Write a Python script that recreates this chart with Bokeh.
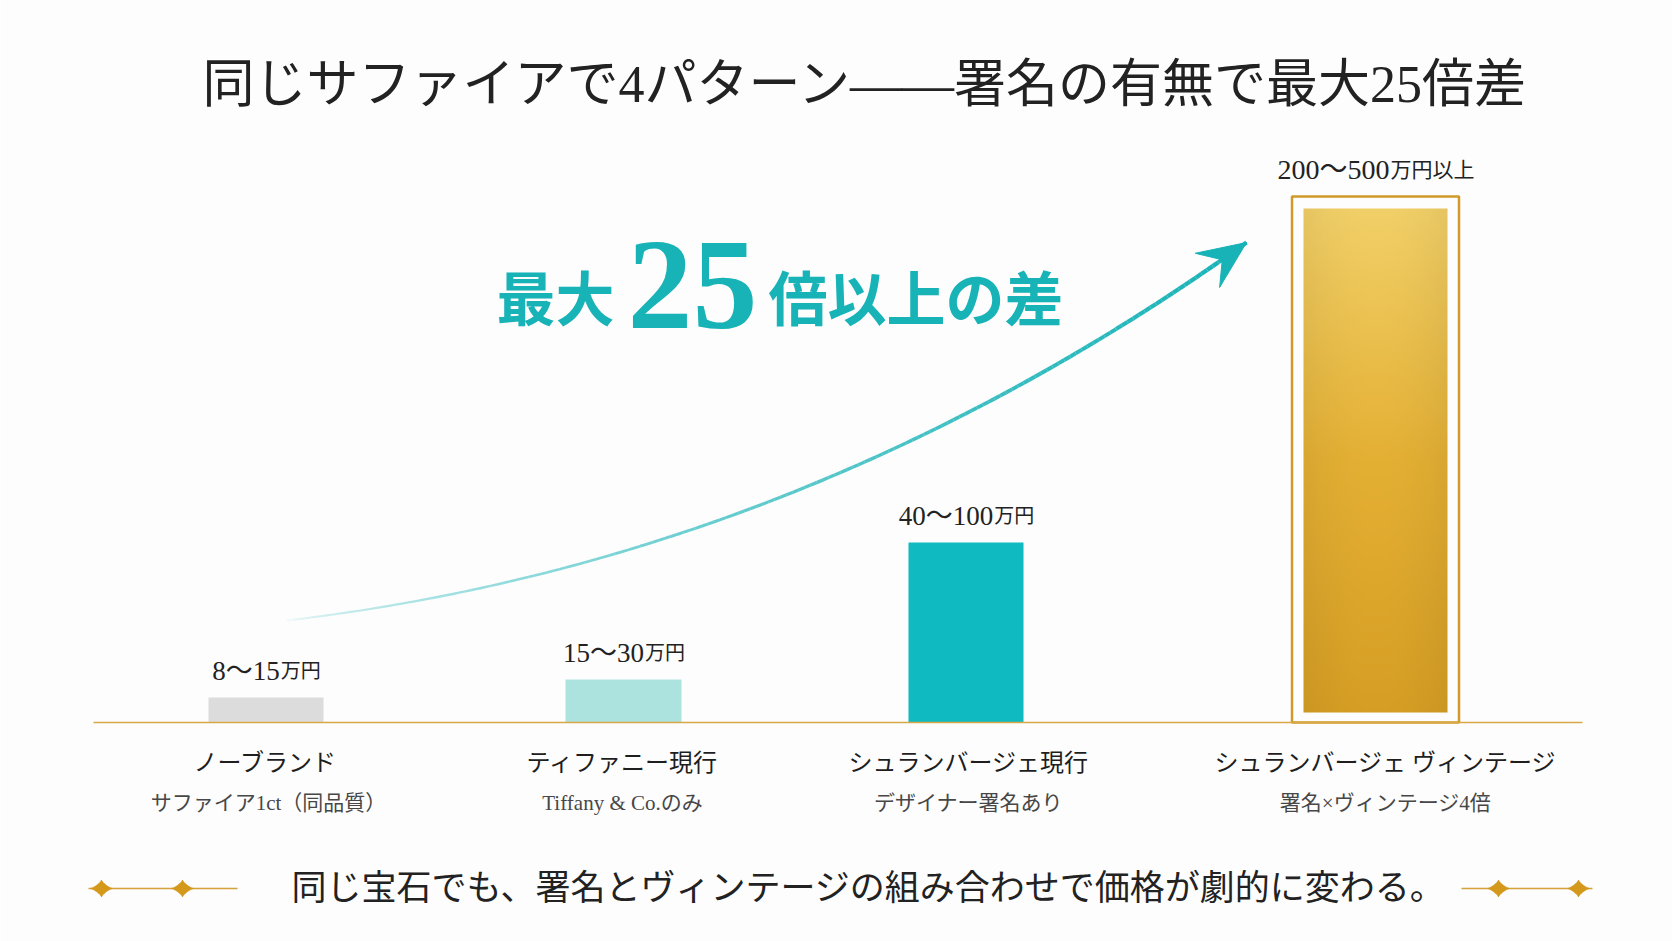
import numpy as np
from bokeh.plotting import figure
from bokeh.models import Range1d
from bokeh.core.properties import value
from bokeh.embed import file_html
from bokeh.resources import INLINE

# ---------------- data ----------------
title_text = "同じサファイアで4パターン——署名の有無で最大25倍差"
headline_pre = "最大"
headline_num = "25"
headline_post = "倍以上の差"
caption_text = "同じ宝石でも、署名とヴィンテージの組み合わせで価格が劇的に変わる。"

categories = ["ノーブランド", "ティファニー現行", "シュランバージェ現行", "シュランバージェ ヴィンテージ"]
subtitles = ["サファイア1ct（同品質）", "Tiffany & Co.のみ", "デザイナー署名あり", "署名×ヴィンテージ4倍"]
price_ranges = ["8〜15", "15〜30", "40〜100", "200〜500"]
price_units = ["万円", "万円", "万円", "万円以上"]
bar_heights = [25, 43, 180, 514]          # visual bar heights (relative units)
bar_colors = ["#dcdcdc", "#ade3df", "#10bac1", "#e2b03a"]

# ---------------- layout ----------------
W, H = 1672, 941
BASE = 722                      # baseline pixel row (from top)
def Y(py):
    return BASE - py

bar_x = [265.5, 623, 965.5, 1375]
bar_w = [115, 116, 115, 144]
label_x = [265, 622, 968, 1385]
sub_x = [268, 622, 968, 1385]

SERIF_JP = value("'Liberation Serif', 'Noto Sans CJK JP'")
JP = value("Noto Sans CJK JP")
TEAL = "#17b3b7"

p = figure(width=W, height=H, x_range=Range1d(0, W), y_range=Range1d(BASE - H, BASE),
           output_backend="svg", toolbar_location=None, min_border=0,
           x_axis_location=None, y_axis_location=None)
p.grid.visible = False
p.outline_line_color = None
p.background_fill_color = "#fdfdfd"
p.border_fill_color = "#fdfdfd"

# title
p.text(x=[865], y=[Y(84)], text=[title_text], text_font=SERIF_JP, text_font_size="52px",
       text_color="#222222", text_align="center", text_baseline="middle")

# bars 1-3
p.vbar(x=bar_x[:3], width=bar_w[:3], bottom=0, top=bar_heights[:3],
       fill_color=bar_colors[:3], line_color=None)

# gold bar (gradient) + frame
gx, gw, gh = bar_x[3], bar_w[3], bar_heights[3]
g_bottom = 10
ny, nx = 200, 60
tv = np.linspace(0, 1, ny)[:, None]            # 0 bottom -> 1 top
uh = np.linspace(-1, 1, nx)[None, :]
c_bot = np.array([214, 158, 36.0])
c_mid = np.array([228, 176, 52.0])
c_top = np.array([242, 208, 104.0])
w1 = np.clip(tv * 2, 0, 1)
w2 = np.clip(tv * 2 - 1, 0, 1)
col = (c_bot * (1 - w1[..., None]) + c_mid * w1[..., None]) * (1 - w2[..., None]) + c_top * w2[..., None]
shade = 1 - 0.05 * uh ** 2
col = np.clip(col * shade[..., None], 0, 255).astype(np.uint32)
img = (255 << 24) | (col[..., 2] << 16) | (col[..., 1] << 8) | col[..., 0]
img = img.astype(np.uint32)
p.image_rgba(image=[img], x=gx - gw / 2, y=g_bottom, dw=gw, dh=gh - g_bottom)
frame_pad = 11.5
frame_top = gh + 12
p.quad(left=[gx - gw / 2 - frame_pad], right=[gx + gw / 2 + frame_pad], bottom=[0], top=[frame_top],
       fill_color=None, line_color="#d09a2a", line_width=2.5)

# baseline
p.segment(x0=[93], y0=[0], x1=[1582], y1=[0], line_color="#d8a848", line_width=1.6)

# value labels
NUM_FS, UNIT_FS = 27, 20
tops = list(bar_heights[:3]) + [frame_top]
for i in range(4):
    num, unit = price_ranges[i], price_units[i]
    fs_n = NUM_FS + (1 if i == 3 else 0)
    fs_u = UNIT_FS + (1 if i == 3 else 0)
    n_digits = sum(ch.isdigit() for ch in num)
    w_num = 0.5 * fs_n * n_digits + fs_n * (len(num) - n_digits)
    w_unit = fs_u * len(unit)
    split = bar_x[i] + (w_num - w_unit) / 2
    yb = tops[i] + 27
    p.text(x=[split], y=[yb], text=[num], text_font=SERIF_JP, text_font_size=f"{fs_n}px",
           text_color="#222222", text_align="right", text_baseline="alphabetic")
    p.text(x=[split + 1], y=[yb], text=[unit], text_font=SERIF_JP, text_font_size=f"{fs_u}px",
           text_color="#222222", text_align="left", text_baseline="alphabetic")

# category labels
p.text(x=label_x, y=[Y(762)] * 4, text=categories, text_font=SERIF_JP, text_font_size="24px",
       text_color="#1e1e1e", text_align="center", text_baseline="middle")
p.text(x=sub_x, y=[Y(802)] * 4, text=subtitles, text_font=SERIF_JP, text_font_size="21px",
       text_color="#474747", text_align="center", text_baseline="middle")

# curved arrow
P0 = np.array([286.0, 620.0]); C = np.array([800.0, 560.0]); P2 = np.array([1246.0, 242.0])
ts = np.linspace(0, 1, 160)
pts = ((1 - ts)[:, None] ** 2) * P0 + (2 * (1 - ts) * ts)[:, None] * C + (ts[:, None] ** 2) * P2
xs = pts[:, 0]; ys = BASE - pts[:, 1]
tm = (ts[:-1] + ts[1:]) / 2
p.segment(x0=xs[:-1], y0=ys[:-1], x1=xs[1:], y1=ys[1:], line_color=TEAL,
          line_alpha=np.clip(tm ** 0.5, 0.03, 1), line_width=2.0 + 2.4 * tm, line_cap="butt")
d = 2 * (P2 - C); d = d / np.linalg.norm(d)
nrm = np.array([-d[1], d[0]])
L, Wd = 48, 21
tip = P2
h1 = tip - L * d + Wd * nrm
h2 = tip - 0.62 * L * d
h3 = tip - L * d - Wd * nrm
head = np.array([tip, h1, h2, h3])
p.patch(x=head[:, 0], y=BASE - head[:, 1], fill_color=TEAL, line_color=TEAL, line_width=1)

# headline
p.text(x=[614], y=[Y(295)], text=[headline_pre], text_font=JP, text_font_size="59px",
       text_font_style="bold", text_color=TEAL, text_align="right", text_baseline="alphabetic")
p.text(x=[692], y=[Y(285)], text=[headline_num], text_font=value("Liberation Serif"),
       text_font_size="130px", text_font_style="bold", text_color=TEAL, text_align="center",
       text_baseline="alphabetic")
p.text(x=[768], y=[Y(295)], text=[headline_post], text_font=JP, text_font_size="59px",
       text_font_style="bold", text_color=TEAL, text_align="left", text_baseline="alphabetic")

# caption with ornaments
p.text(x=[868], y=[Y(888)], text=[caption_text], text_font=SERIF_JP, text_font_size="35px",
       text_color="#222222", text_align="center", text_baseline="middle")
p.segment(x0=[88, 1461], y0=[Y(888)] * 2, x1=[237, 1592], y1=[Y(888)] * 2,
          line_color="#d4a13a", line_width=1.6)
tt = np.linspace(0, 2 * np.pi, 80, endpoint=False)
ex = np.sign(np.cos(tt)) * np.abs(np.cos(tt)) ** 2.6
ey = np.sign(np.sin(tt)) * np.abs(np.sin(tt)) ** 2.6
star_x, star_y = [], []
for cx in [101, 182, 1498, 1578]:
    star_x.append(list(cx + 11 * ex))
    star_y.append(list(Y(888) + 8.5 * ey))
p.patches(xs=star_x, ys=star_y, fill_color="#d4981a", line_color="#d4981a", line_width=0.8)

open("out.html", "w").write(file_html(p, INLINE))
